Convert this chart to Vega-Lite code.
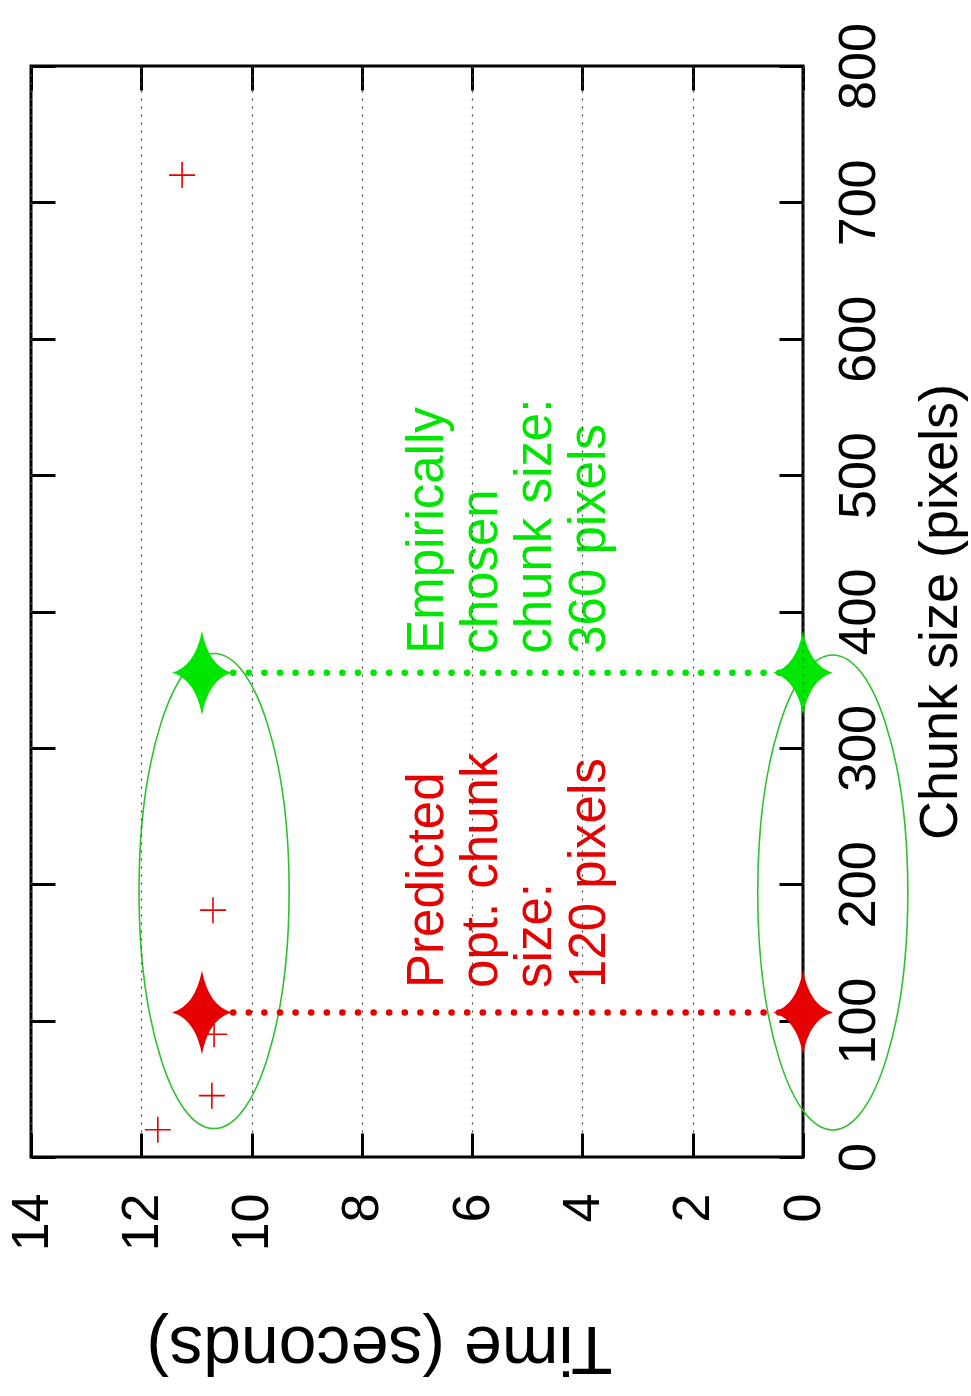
{
  "$schema": "https://vega.github.io/schema/vega-lite/v6.json",
  "width": 772,
  "height": 1091,
  "autosize": "none",
  "padding": {"left": 31, "top": 66, "right": 168, "bottom": 239},
  "background": "white",
  "config": {
    "font": "Liberation Sans",
    "view": {"stroke": "black", "strokeWidth": 3},
    "axis": {"domain": false, "labelFont": "Liberation Sans", "titleFont": "Liberation Sans", "labelColor": "black", "titleColor": "black", "titleFontWeight": "normal", "tickColor": "black", "tickWidth": 3}
  },
  "datasets": {
    "plus": [
      {"chunk": 20, "time": 11.70},
      {"chunk": 45, "time": 10.72},
      {"chunk": 90, "time": 10.68},
      {"chunk": 181, "time": 10.70},
      {"chunk": 360, "time": 10.88},
      {"chunk": 720, "time": 11.26}
    ],
    "ellipses": [
      {"chunk": 195, "time": 10.68},
      {"chunk": 194, "time": -0.54}
    ],
    "guides": [
      {"chunk": 106, "from": 10.9, "to": 0, "series": "pred"},
      {"chunk": 355, "from": 10.9, "to": 0, "series": "emp"}
    ],
    "stars": [
      {"chunk": 106, "time": 10.9, "series": "pred"},
      {"chunk": 106, "time": 0, "series": "pred"},
      {"chunk": 355, "time": 10.9, "series": "emp"},
      {"chunk": 355, "time": 0, "series": "emp"}
    ],
    "labels": [
      {"chunk": 124, "time": 6.53, "series": "pred", "label": ["Predicted", "opt. chunk", "size:", "120 pixels"]},
      {"chunk": 369, "time": 6.53, "series": "emp", "label": ["Empirically", "chosen", "chunk size:", "360 pixels"]}
    ]
  },
  "resolve": {"axis": {"x": "independent", "y": "independent"}},
  "layer": [
    {
      "data": {"name": "plus"},
      "mark": {"type": "point", "shape": "M-1,0L1,0M0,-1L0,1", "filled": false, "stroke": "#e60000", "strokeWidth": 1.6, "size": 676, "opacity": 1},
      "encoding": {
        "x": {"field": "time", "type": "quantitative", "scale": {"domain": [0, 14], "reverse": true, "nice": false, "zero": false},
          "axis": {"orient": "bottom", "values": [0, 2, 4, 6, 8, 10, 12, 14], "grid": true, "gridDash": [2, 6], "gridColor": "#444", "gridWidth": 1.2, "gridOpacity": 1, "zindex": 1,
            "tickSize": -24, "labelAngle": 270, "labelAlign": "right", "labelBaseline": "middle", "labelFontSize": 52, "labelPadding": 60,
            "title": "Time (seconds)", "titleFontSize": 68, "titleAngle": 180, "titleBaseline": "bottom", "titlePadding": 62, "titleX": 348}},
        "y": {"field": "chunk", "type": "quantitative", "scale": {"domain": [0, 800], "nice": false, "zero": false},
          "axis": {"orient": "right", "values": [0, 100, 200, 300, 400, 500, 600, 700, 800], "grid": false,
            "tickSize": -24, "labelAngle": 270, "labelAlign": "center", "labelBaseline": "top", "labelFontSize": 52, "labelPadding": 54,
            "title": "Chunk size (pixels)", "titleFontSize": 54, "titleAngle": 270, "titleBaseline": "top", "titlePadding": 29}}
      }
    },
    {
      "data": {"name": "plus"},
      "mark": {"type": "point", "opacity": 0},
      "encoding": {
        "x": {"field": "time", "type": "quantitative",
          "axis": {"orient": "top", "values": [0, 2, 4, 6, 8, 10, 12, 14], "grid": false, "labels": false, "tickSize": -24, "title": null}},
        "y": {"field": "chunk", "type": "quantitative",
          "axis": {"orient": "left", "values": [0, 100, 200, 300, 400, 500, 600, 700, 800], "grid": false, "labels": false, "tickSize": -24, "title": null}}
      }
    },
    {
      "data": {"name": "ellipses"},
      "mark": {"type": "point", "shape": "M0,-1C0.1745,-1,0.316,-0.5523,0.316,0C0.316,0.5523,0.1745,1,0,1C-0.1745,1,-0.316,0.5523,-0.316,0C-0.316,-0.5523,-0.1745,-1,0,-1Z", "filled": false, "stroke": "#2fc02f", "strokeWidth": 1.6, "size": 225625, "opacity": 1},
      "encoding": {
        "x": {"field": "time", "type": "quantitative", "axis": null},
        "y": {"field": "chunk", "type": "quantitative", "axis": null}
      }
    },
    {
      "data": {"name": "guides"},
      "mark": {"type": "rule", "strokeWidth": 6.5, "strokeDash": [0.1, 15.5], "strokeCap": "round"},
      "encoding": {
        "x": {"field": "from", "type": "quantitative", "axis": null},
        "x2": {"field": "to"},
        "y": {"field": "chunk", "type": "quantitative", "axis": null},
        "color": {"field": "series", "type": "nominal", "scale": {"domain": ["pred", "emp"], "range": ["#e60000", "#00e600"]}, "legend": null}
      }
    },
    {
      "data": {"name": "stars"},
      "mark": {"type": "point", "shape": "M0,-1Q0.16,-0.16,0.71,0Q0.16,0.16,0,1Q-0.16,0.16,-0.71,0Q-0.16,-0.16,0,-1Z", "filled": true, "size": 7056, "opacity": 1},
      "encoding": {
        "x": {"field": "time", "type": "quantitative", "axis": null},
        "y": {"field": "chunk", "type": "quantitative", "axis": null},
        "color": {"field": "series", "type": "nominal", "legend": null}
      }
    },
    {
      "data": {"name": "labels"},
      "mark": {"type": "text", "angle": 270, "align": "left", "baseline": "alphabetic", "fontSize": 51, "lineHeight": 54, "font": "Liberation Sans"},
      "encoding": {
        "x": {"field": "time", "type": "quantitative", "axis": null},
        "y": {"field": "chunk", "type": "quantitative", "axis": null},
        "text": {"field": "label"},
        "color": {"field": "series", "type": "nominal", "legend": null}
      }
    }
  ]
}
